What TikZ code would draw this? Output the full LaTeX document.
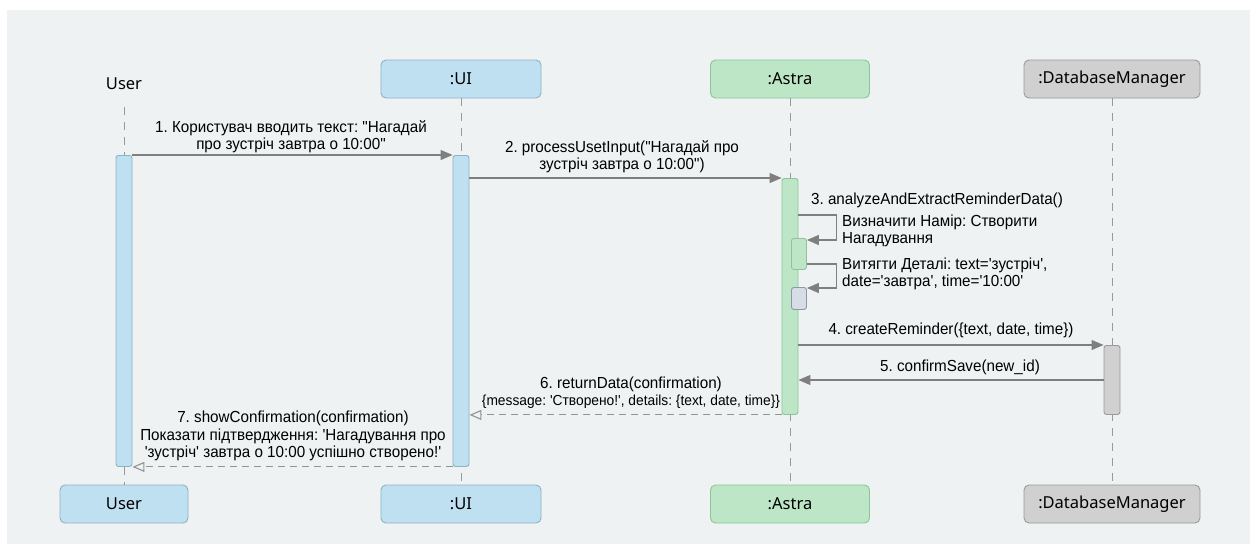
\documentclass[tikz,border=0pt]{standalone}
\usepackage{fontspec}
\setmainfont{Noto Sans}
\newfontfamily\msgfont[Ligatures=TeXOff, FakeStretch=0.95]{Liberation Sans}
\usetikzlibrary{calc,arrows.meta}

\definecolor{panel}{HTML}{EEF2F3}
\definecolor{uifill}{HTML}{BFE0F1}
\definecolor{uidraw}{HTML}{8DB2C6}
\definecolor{astrafill}{HTML}{BDE6C6}
\definecolor{astradraw}{HTML}{8FC39B}
\definecolor{dbfill}{HTML}{D0D0D0}
\definecolor{dbdraw}{HTML}{9A9A9A}
\definecolor{minifill}{HTML}{D7DDE7}
\definecolor{minidraw}{HTML}{8C97A8}
\definecolor{msgline}{HTML}{7F7F7F}

\tikzset{
  head/.style={rounded corners=5pt, line width=0.9pt, minimum height=38pt, inner sep=0pt, font=\fontsize{16.5}{19}\selectfont},
  bar/.style={rounded corners=2.5pt, line width=0.9pt, minimum width=16pt, inner sep=0pt, anchor=north},
  mini/.style={rounded corners=2.5pt, line width=0.9pt, minimum width=15pt, inner sep=0pt, anchor=north west},
  life/.style={draw=msgline!80, line width=0.9pt, dash pattern=on 8pt off 7pt},
  msg/.style={draw=msgline, line width=1.1pt, -{Triangle[length=12pt,width=10pt]}},
  reply/.style={draw=msgline!85, line width=1.1pt, dash pattern=on 7pt off 5pt, -{Triangle[open,length=12pt,width=10pt]}},
  lbl/.style={font=\msgfont\frenchspacing\fontsize{16}{17.4}\selectfont, align=center, inner sep=0pt},
  note/.style={lbl, align=left, anchor=west}
}

\begin{document}
\begin{tikzpicture}[x=1pt, y=-1pt]

\useasboundingbox (0,0) rectangle (1257,554);

\fill[panel] (7,10) rectangle (1250,544);

\node[font=\fontsize{16.5}{19}\selectfont, inner sep=0pt] (userhead) at (124,84) {User};

\node[head, fill=uifill, draw=uidraw, minimum width=160pt] (uihead) at (461,79) {:UI};

\node[head, fill=astrafill, draw=astradraw, minimum width=159pt] (astrahead) at (790,79) {:Astra};

\node[head, fill=dbfill, draw=dbdraw, minimum width=176pt] (dbhead) at (1112,79) {:DatabaseManager};

\node[head, fill=uifill, draw=uidraw, minimum width=128pt] (userfoot) at (124,504) {User};

\node[head, fill=uifill, draw=uidraw, minimum width=160pt] (uifoot) at (461,504) {:UI};

\node[head, fill=astrafill, draw=astradraw, minimum width=159pt] (astrafoot) at (790,504) {:Astra};

\node[head, fill=dbfill, draw=dbdraw, minimum width=176pt] (dbfoot) at (1112,504) {:DatabaseManager};

\draw[life] ([yshift=-17pt]userhead.south) -- (userfoot);
\draw[life] (uihead) -- (uifoot);
\draw[life] (astrahead) -- (astrafoot);
\draw[life] (dbhead) -- (dbfoot);

\node[bar, fill=uifill, draw=uidraw, minimum height=311pt] (userbar) at (124,155) {};

\node[bar, fill=uifill, draw=uidraw, minimum height=311pt] (uibar) at (461,155) {};

\node[bar, fill=astrafill, draw=astradraw, minimum height=236pt] (astrabar) at (790,178) {};

\node[bar, fill=dbfill, draw=dbdraw, minimum height=69pt] (dbbar) at (1112,345) {};

\node[mini, fill=astrafill, draw=astradraw, minimum height=31pt] (mini1) at (791,238) {};

\node[mini, fill=minifill, draw=minidraw, minimum height=22pt] (mini2) at (791,287) {};

\draw[msg] (userbar.north east) -- (uibar.north west);
\node[lbl] (m1) at (291,137) {1. Користувач вводить текст: "Нагадай\\про зустріч завтра о 10:00"};

\draw[msg] (uibar.east |- astrabar.north) -- (astrabar.north west);
\node[lbl] (m2) at (622,157) {2. processUsetInput("Нагадай про\\зустріч завтра о 10:00")};

\node[lbl] (m3) at (937,200) {3. analyzeAndExtractReminderData()};

\coordinate (s1) at (astrabar.east |- 0,215);
\draw[msg] (s1) -- ++(38,0) |- ([yshift=-2pt]mini1.north east);
\node[note] (n1) at (842,231) {Визначити Намір: Створити\\Нагадування};

\draw[msg] ([yshift=-10pt]mini1.east) -- ++(30,0) |- ([yshift=-1pt]mini2.north east);
\node[note] (n2) at (842,274) {Витягти Деталі: text='зустріч',\\date='завтра', time='10:00'};

\draw[msg] (astrabar.east |- dbbar.north) -- (dbbar.north west);
\node[lbl] (m4) at (951,330) {4. createReminder(\{text, date, time\})};

\coordinate (s5) at (dbbar.west |- 0,380);
\draw[msg] (s5) -- (astrabar.east |- s5);
\node[lbl] (m5) at (960,367) {5. confirmSave(new\_id)};

\draw[reply] (astrabar.south west) -- (uibar.east |- astrabar.south);
\node[lbl] (m6) at (631,393) {6. returnData(confirmation)\\{\fontsize{14.5}{17}\selectfont\{message: 'Створено!', details: \{text, date, time\}\}}};

\draw[reply] (uibar.south west) -- (userbar.south east);
\node[lbl] (m7) at (293,436) {7. showConfirmation(confirmation)\\Показати підтвердження: 'Нагадування про\\'зустріч' завтра о 10:00 успішно створено!'};

\end{tikzpicture}
\end{document}
